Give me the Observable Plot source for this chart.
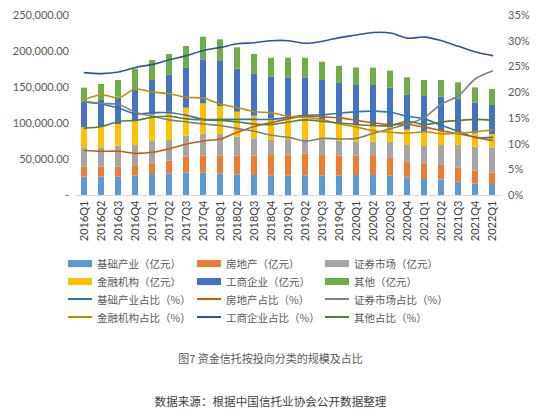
<!DOCTYPE html>
<html><head><meta charset="utf-8">
<script src="https://cdn.jsdelivr.net/npm/d3@7"></script>
<script src="https://cdn.jsdelivr.net/npm/@observablehq/plot@0.6"></script>
<style>
body{margin:0;background:#fff;width:553px;height:418px;position:relative;overflow:hidden;font-family:"Noto Sans CJK SC","Noto Sans",sans-serif;}
#chart{position:absolute;left:0;top:0;}
.leg{position:absolute;display:flex;align-items:center;height:14px;font-size:10.5px;color:#595959;white-space:nowrap;}
.sw{width:24px;margin-right:5px;flex:none;}
.cap{position:absolute;left:0;width:541px;text-align:center;white-space:nowrap;}
</style></head><body>
<div id="chart"></div>
<div id="legend"></div>
<div class="cap" style="top:350px;font-size:11px;color:#595959;">图7 资金信托按投向分类的规模及占比</div>
<div class="cap" style="top:393px;font-size:11.6px;color:#404040;">数据来源：根据中国信托业协会公开数据整理</div>
<script>
const quarters = ["2016Q1","2016Q2","2016Q3","2016Q4","2017Q1","2017Q2","2017Q3","2017Q4","2018Q1","2018Q2","2018Q3","2018Q4","2019Q1","2019Q2","2019Q3","2019Q4","2020Q1","2020Q2","2020Q3","2020Q4","2021Q1","2021Q2","2021Q3","2021Q4","2022Q1"];
const categories = ["基础产业","房地产","证券市场","金融机构","工商企业","其他"];

// 规模（亿元）
const infra      = [25400,25400,25400,26800,29200,30100,31000,31000,30100,28700,27800,26800,26800,27300,27300,26800,27800,27800,26800,24500,22200,21500,18500,16000,15300];
const realEstate = [14000,14000,14000,13500,15700,17600,22200,23600,24500,25900,26800,28800,29200,30600,28300,27800,26800,26400,24700,22300,22700,20200,19900,17800,15700];
const securities = [26800,26800,29100,29100,30100,28700,29200,30600,30100,26400,24100,20800,21500,19600,20800,20600,19400,19800,22000,22600,23200,27700,31000,33300,35200];
const financial  = [27800,28800,30100,33800,37000,39100,38900,42100,38900,34700,31500,30600,28500,29500,27600,25300,23500,22700,20900,21600,19900,19200,18500,18400,18500];
const industry   = [35600,37000,38000,43600,47700,52100,56000,61100,62500,59800,58800,57400,57400,56400,55700,55000,55300,56100,54600,47900,49500,48000,46400,42700,40300];
const others     = [19400,22200,23100,28600,27800,28200,29600,31500,30100,29600,26800,26300,27300,27300,25500,23900,24300,24100,23700,24500,22200,23100,22200,21300,22200];

// 占比（%）
const infraPct      = [18.2,17.8,17.0,15.9,16.1,16.1,15.6,14.8,14.8,14.8,14.8,14.8,15.2,15.6,15.7,16.0,16.3,16.4,16.2,15.4,14.9,13.6,12.5,11.3,11.3];
const realEstatePct = [8.75,8.6,8.6,8.2,8.4,9.1,10.0,10.6,11.0,12.3,13.4,14.2,14.9,15.4,15.3,15.1,14.6,14.1,13.8,13.8,13.3,12.6,12.0,11.3,10.7];
const securitiesPct = [18.2,17.9,17.7,16.2,15.4,14.7,14.3,13.9,13.6,13.0,12.5,11.7,11.3,10.6,11.1,11.0,11.1,12.1,13.0,13.9,15.2,17.8,19.4,22.7,24.2];
const financialPct  = [18.6,19.6,19.0,20.7,20.1,19.8,19.1,18.9,17.8,17.1,16.3,16.1,15.4,15.2,14.7,13.9,13.3,12.6,12.3,12.1,12.4,12.0,12.1,12.4,12.8];
const industryPct   = [23.9,23.7,24.0,24.9,25.5,26.4,27.2,28.2,28.8,29.5,29.7,30.1,30.1,29.6,30.0,30.7,31.2,31.7,31.6,30.6,30.8,30.1,29.0,27.9,27.2];
const othersPct     = [13.1,13.4,14.4,14.6,15.2,15.4,14.9,14.7,14.6,14.3,13.9,13.8,14.3,14.7,14.4,14.1,13.8,13.6,13.6,14.4,13.8,14.3,14.6,14.8,14.6];

const leftTicks = [0,50000,100000,150000,200000,250000];
const rightTicks = [0,5,10,15,20,25,30,35];

const barColors  = ["#5B9BD5","#ED7D31","#A5A5A5","#FFC000","#4472C4","#70AD47"];
const lineColors = ["#2E75B6","#C55A11","#7F7F7F","#BF9000","#2F5597","#548235"];

const amounts = [infra, realEstate, securities, financial, industry, others];
const pcts = [infraPct, realEstatePct, securitiesPct, financialPct, industryPct, othersPct];

const yMax = 250000, pMax = 35;
const k = yMax / pMax;

const barRows = [];
categories.forEach((c, ci) => quarters.forEach((q, qi) => barRows.push({q, cat: c, value: amounts[ci][qi]})));

const lineMarks = categories.map((c, ci) =>
  Plot.line(quarters.map((q, qi) => ({q, p: pcts[ci][qi]})), {
    x: "q", y: d => d.p * k, stroke: lineColors[ci], strokeWidth: 1.6, curve: "catmull-rom"
  })
);

const chart = Plot.plot({
  width: 553, height: 248,
  marginLeft: 75.5, marginRight: 51.5, marginTop: 15, marginBottom: 53,
  style: {fontFamily: "Lato, 'Noto Sans', sans-serif", fontSize: "11px", color: "#595959", background: "#fff"},
  x: {type: "band", domain: quarters, paddingInner: 0.64, paddingOuter: 0.32, axis: null, label: null},
  y: {domain: [0, yMax], axis: null, label: null},
  color: {domain: categories, range: barColors},
  marks: [
    Plot.barY(barRows, {x: "q", y: "value", fill: "cat", order: categories}),
    ...lineMarks,
    Plot.ruleY([0], {stroke: "#D9D9D9", strokeWidth: 1}),
    Plot.axisY({ticks: leftTicks, label: null, tickSize: 0, tickPadding: 7, tickFormat: d => d === 0 ? "-" : d3.format(",.2f")(d), fill: "#595959", fontSize: 11}),
    Plot.axisY({anchor: "right", label: null, ticks: rightTicks.map(p => p * k), tickSize: 0, tickPadding: 6, tickFormat: d => Math.round(d / k) + "%", fill: "#595959", fontSize: 11}),
    Plot.axisX({tickRotate: -90, label: null, tickSize: 0, tickPadding: 5, fill: "#404040", fontSize: 11})
  ]
});
document.getElementById("chart").appendChild(chart);

// legend
const legend = document.getElementById("legend");
const colX = [68, 197, 325];
const rowY = [263, 281, 299, 317];
const items = [];
categories.forEach((c, i) => items.push({label: c + "（亿元）", color: barColors[i], type: "bar"}));
categories.forEach((c, i) => items.push({label: c + "占比（%）", color: lineColors[i], type: "line"}));
items.forEach((it, i) => {
  const row = Math.floor(i / 3), col = i % 3;
  const div = document.createElement("div");
  div.className = "leg";
  div.style.left = colX[col] + "px";
  div.style.top = (rowY[row] - 7) + "px";
  const sw = document.createElement("span");
  sw.className = "sw";
  sw.style.background = it.color;
  sw.style.height = it.type === "bar" ? "7px" : "2px";
  div.appendChild(sw);
  const t = document.createElement("span");
  t.textContent = it.label;
  div.appendChild(t);
  legend.appendChild(div);
});
</script>
</body></html>
